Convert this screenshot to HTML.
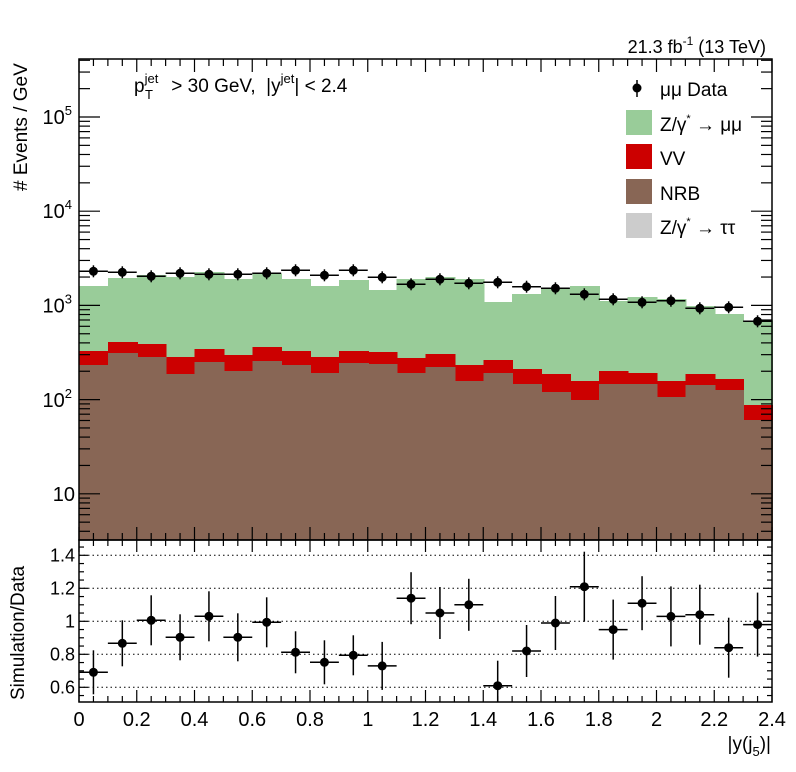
<!DOCTYPE html>
<html><head><meta charset="utf-8"><style>
html,body{margin:0;padding:0;background:#fff}
svg{display:block;font-family:"Liberation Sans",sans-serif}
</style></head><body>
<svg id="s" width="796" height="772" xmlns="http://www.w3.org/2000/svg">
<rect width="796" height="772" fill="#fff"/>
<g id="g"></g>
<text x="766" y="53" font-size="18" text-anchor="end">21.3 fb<tspan dy="-8" font-size="12">-1</tspan><tspan dy="8"> (13 TeV)</tspan></text>
<text x="134" y="92" font-size="19" xml:space="preserve">p<tspan dy="-9" font-size="13">jet</tspan><tspan x="145" dy="16" font-size="13">T</tspan><tspan x="166" dy="-7"> &gt; 30 GeV,  |y</tspan><tspan dy="-9" font-size="13">jet</tspan><tspan dy="9">| &lt; 2.4</tspan></text>
<text transform="translate(27,191) rotate(-90)" font-size="19">#  Events / GeV</text>
<text transform="translate(24,700) rotate(-90)" font-size="19">Simulation/Data</text>
<text x="771" y="750" font-size="19" text-anchor="end">|y(j<tspan font-size="13" dy="6">5</tspan><tspan dy="-6">)|</tspan></text>
<g font-size="19">
<circle cx="637" cy="88" r="4.5"/><line x1="637" y1="80" x2="637" y2="97" stroke="#000" stroke-width="1.5"/>
<text x="660" y="96">μμ Data</text>
<rect x="626" y="110" width="26" height="25" fill="#99cc99"/><text x="660" y="131">Z/γ<tspan dy="-9" font-size="11">*</tspan><tspan dy="9"> → μμ</tspan></text>
<rect x="626" y="144" width="26" height="25" fill="#cc0000"/><text x="660" y="165">VV</text>
<rect x="626" y="179" width="26" height="25" fill="#886655"/><text x="660" y="200">NRB</text>
<rect x="626" y="213" width="26" height="25" fill="#cccccc"/><text x="660" y="234">Z/γ<tspan dy="-9" font-size="11">*</tspan><tspan dy="9"> → ττ</tspan></text>
</g>
</svg>
<script>
var g=document.getElementById('g'),h='';
var X0=79,X1=772,W=(X1-X0)/24,YT=59,YB=540,RB=702;
var data=[271.3,272.3,276.3,273.3,274.3,274.3,273.3,270.3,275.3,270.3,277.3,284.3,279.3,283.3,282.3,286.7,288.3,294.3,299.3,302.3,300.7,308.3,307.3,321.3];
var gr=[286,278,275,277,272,279,273.3,279,286,280,290,279,277,279,302,294,288.7,286,301,297,299,306,314,320.7];
var rd=[351,342,344,357,349,355,347,351,357,351,352,358,354,365,360,369,374,381,371,373,381,374,379,405];
var br=[365,353,357,374,362,371,361,365,373,363,364,373,367,381,373,384,392,400,384,384,397,385,390,420];
var rat=[672.3,643.3,620.3,637.3,616.3,637.3,622.3,652.3,662.3,655.3,665.9,598.2,613,604.8,685.7,651,623,586.7,629.6,603.2,616.4,614.7,647.7,624.6];
var rerr=[22,23,25,23,25,24,25,21,22,20,24,26,26,26,25,26,27,35,30,27,30,30,30,32];
for(var i=0;i<24;i++){var x=X0+i*W;
h+='<rect shape-rendering="crispEdges" x="'+x+'" y="'+gr[i]+'" width="'+(W+1)+'" height="'+(YB-gr[i])+'" fill="#99cc99"/>';}
for(var i=0;i<24;i++){var x=X0+i*W;
h+='<rect shape-rendering="crispEdges" x="'+x+'" y="'+rd[i]+'" width="'+(W+1)+'" height="'+(YB-rd[i])+'" fill="#cc0000"/>';}
for(var i=0;i<24;i++){var x=X0+i*W;
h+='<rect shape-rendering="crispEdges" x="'+x+'" y="'+br[i]+'" width="'+(W+1)+'" height="'+(YB-br[i])+'" fill="#886655"/>';}
[0.6,0.8,1,1.2,1.4].forEach(function(r){var y=621.3-165*(r-1);h+='<line x1="'+X0+'" x2="'+X1+'" y1="'+y+'" y2="'+y+'" stroke="#000" stroke-dasharray="1.5,3" stroke-width="1"/>';});
for(var i=0;i<24;i++){var x=X0+i*W,c=x+W/2;
h+='<line x1="'+x+'" x2="'+(x+W)+'" y1="'+data[i]+'" y2="'+data[i]+'" stroke="#000" stroke-width="1.5"/>';
h+='<line x1="'+c+'" x2="'+c+'" y1="'+(data[i]-6)+'" y2="'+(data[i]+6)+'" stroke="#000" stroke-width="1.5"/>';
h+='<circle cx="'+c+'" cy="'+data[i]+'" r="4.5"/>';
var y=rat[i],e=rerr[i];
h+='<line x1="'+x+'" x2="'+(x+W)+'" y1="'+y+'" y2="'+y+'" stroke="#000" stroke-width="1.5"/>';
h+='<line x1="'+c+'" x2="'+c+'" y1="'+Math.max(541,y-e)+'" y2="'+Math.min(RB,y+e)+'" stroke="#000" stroke-width="1.5"/>';
h+='<circle cx="'+c+'" cy="'+y+'" r="4.5"/>';}
h+='<rect x="'+X0+'" y="'+YT+'" width="'+(X1-X0)+'" height="'+(YB-YT)+'" fill="none" stroke="#000" stroke-width="1.5"/>';
h+='<rect x="'+X0+'" y="'+YB+'" width="'+(X1-X0)+'" height="'+(RB-YB)+'" fill="none" stroke="#000" stroke-width="1.5"/>';
function L(a,b,c,d){h+='<line x1="'+a+'" y1="'+b+'" x2="'+c+'" y2="'+d+'" stroke="#000" stroke-width="1.2"/>';}
for(var k=0;k<=48;k++){var x=X0+k*(X1-X0)/48,maj=(k%4==0),l=maj?13:7;
L(x,YB,x,YB-l);L(x,YT,x,YT+l);L(x,RB,x,RB-(maj?12:6));L(x,YB,x,YB+(maj?12:6));}
for(var k=0;k<=12;k++){var x=X0+k*(X1-X0)/12,v=(k*0.2).toFixed(1).replace(/\.0$/,'');
h+='<text x="'+x+'" y="726" font-size="20" text-anchor="middle">'+v+'</text>';}
function ly(v){return 117+94.2*(5-Math.log10(v));}
for(var d=0;d<=6;d++)for(var m=1;m<10;m++){var y=ly(m*Math.pow(10,d));if(y<YT||y>YB)continue;var l=m==1?21:11;L(X0,y,X0+l,y);L(X1,y,X1-l,y);}
[[5,117],[4,211],[3,305.7],[2,400]].forEach(function(p){h+='<text x="72" y="'+(p[1]+7)+'" font-size="20" text-anchor="end">10<tspan dy="-9" font-size="13">'+p[0]+'</tspan></text>';});
h+='<text x="75" y="'+(ly(10)+7)+'" font-size="20" text-anchor="end">10</text>';
for(var k=0;k<=20;k++){var r=0.5+k*0.05,y=621.3-165*(r-1);if(y<YB||y>RB)continue;var maj=(Math.round(r*100)%20==0);var l=maj?9:5;L(X0,y,X0+l,y);L(X1,y,X1-l,y);}
[0.6,0.8,1,1.2,1.4].forEach(function(r){var y=621.3-165*(r-1);h+='<text x="75" y="'+(y+6)+'" font-size="18" text-anchor="end">'+r+'</text>';});
g.innerHTML=h;
</script>
</body></html>
